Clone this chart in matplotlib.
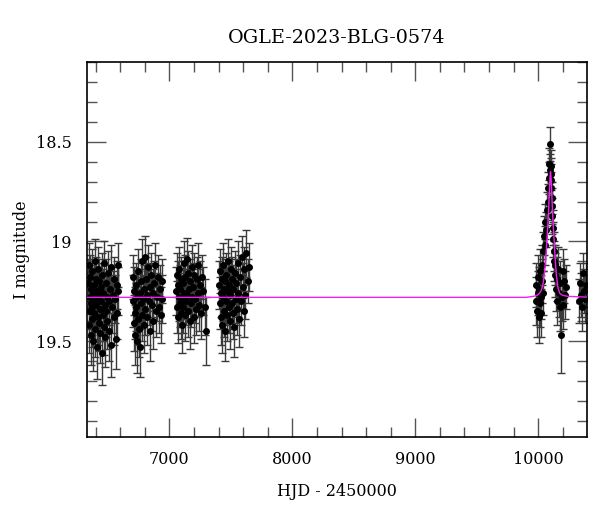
import matplotlib
matplotlib.use("Agg")
import matplotlib.pyplot as plt
from matplotlib.ticker import MultipleLocator

plt.rcParams.update({
    "font.family": "DejaVu Serif",
    "font.size": 11.5,
})

# ── Photometry (HJD - 2450000, I mag, error) ────────────────────────────────
s1_hjd = [6341, 6344, 6347, 6350, 6353, 6356, 6359, 6362, 6365, 6368,
          6371, 6374, 6377, 6380, 6384, 6388, 6391, 6395, 6398, 6402,
          6405, 6409, 6412, 6416, 6420, 6423, 6427, 6431, 6434, 6438,
          6442, 6446, 6449, 6453, 6457, 6461, 6465, 6469, 6473, 6477,
          6481, 6486, 6490, 6495, 6500, 6505, 6510, 6516, 6522, 6528,
          6534, 6540, 6546, 6552, 6558, 6564, 6570, 6576, 6581, 6585]
s1_mag = [19.21, 19.35, 19.12, 19.42, 19.28, 19.18, 19.47, 19.31, 19.24, 19.39,
          19.15, 19.33, 19.26, 19.50, 19.22, 19.36, 19.10, 19.29, 19.44, 19.19,
          19.32, 19.25, 19.53, 19.38, 19.14, 19.27, 19.41, 19.20, 19.34, 19.46,
          19.23, 19.30, 19.56, 19.17, 19.37, 19.26, 19.43, 19.11, 19.32, 19.48,
          19.21, 19.35, 19.28, 19.40, 19.16, 19.30, 19.45, 19.24, 19.52, 19.13,
          19.33, 19.27, 19.38, 19.19, 19.29, 19.49, 19.22, 19.36, 19.12, 19.25]
s1_err = [0.12, 0.13, 0.11, 0.14, 0.12, 0.11, 0.15, 0.13, 0.12, 0.14,
          0.11, 0.13, 0.12, 0.15, 0.12, 0.13, 0.11, 0.12, 0.14, 0.11,
          0.13, 0.12, 0.16, 0.14, 0.11, 0.12, 0.14, 0.11, 0.13, 0.15,
          0.12, 0.12, 0.16, 0.11, 0.13, 0.12, 0.14, 0.11, 0.13, 0.15,
          0.12, 0.13, 0.12, 0.14, 0.11, 0.12, 0.15, 0.12, 0.16, 0.11,
          0.13, 0.12, 0.14, 0.11, 0.12, 0.15, 0.12, 0.13, 0.11, 0.12]

s2_hjd = [6702, 6706, 6710, 6714, 6718, 6722, 6726, 6731, 6735, 6739,
          6744, 6748, 6753, 6757, 6762, 6766, 6771, 6776, 6780, 6785,
          6790, 6795, 6800, 6805, 6810, 6816, 6821, 6827, 6833, 6839,
          6845, 6851, 6857, 6864, 6870, 6877, 6884, 6891, 6898, 6905,
          6912, 6920, 6928, 6936, 6944]
s2_mag = [19.30, 19.18, 19.41, 19.25, 19.36, 19.47, 19.22, 19.33, 19.50, 19.28,
          19.39, 19.15, 19.44, 19.26, 19.53, 19.31, 19.20, 19.37, 19.10, 19.29,
          19.42, 19.24, 19.08, 19.34, 19.19, 19.27, 19.38, 19.13, 19.30, 19.23,
          19.45, 19.17, 19.32, 19.26, 19.40, 19.21, 19.12, 19.35, 19.28, 19.18,
          19.33, 19.24, 19.37, 19.20, 19.29]
s2_err = [0.13, 0.11, 0.14, 0.12, 0.13, 0.15, 0.11, 0.12, 0.16, 0.12,
          0.13, 0.11, 0.14, 0.12, 0.15, 0.13, 0.11, 0.13, 0.11, 0.12,
          0.14, 0.12, 0.11, 0.13, 0.11, 0.12, 0.14, 0.11, 0.12, 0.12,
          0.15, 0.11, 0.13, 0.12, 0.14, 0.11, 0.11, 0.13, 0.12, 0.11,
          0.13, 0.12, 0.14, 0.11, 0.12]

s3_hjd = [7055, 7059, 7063, 7067, 7071, 7075, 7079, 7083, 7088, 7092,
          7096, 7100, 7105, 7109, 7113, 7118, 7122, 7127, 7131, 7136,
          7141, 7146, 7150, 7155, 7160, 7165, 7170, 7176, 7181, 7186,
          7192, 7198, 7204, 7210, 7216, 7222, 7229, 7236, 7243, 7250,
          7258, 7266, 7275, 7288, 7298]
s3_mag = [19.25, 19.17, 19.33, 19.22, 19.38, 19.28, 19.14, 19.31, 19.24, 19.36,
          19.19, 19.29, 19.42, 19.21, 19.33, 19.11, 19.26, 19.37, 19.18, 19.30,
          19.09, 19.27, 19.35, 19.16, 19.24, 19.40, 19.20, 19.31, 19.13, 19.28,
          19.23, 19.38, 19.17, 19.29, 19.34, 19.19, 19.26, 19.12, 19.32, 19.22,
          19.36, 19.18, 19.25, 19.33, 19.45]
s3_err = [0.12, 0.11, 0.13, 0.12, 0.13, 0.12, 0.11, 0.12, 0.12, 0.13,
          0.11, 0.12, 0.14, 0.11, 0.13, 0.11, 0.12, 0.13, 0.11, 0.12,
          0.11, 0.12, 0.13, 0.11, 0.12, 0.14, 0.11, 0.12, 0.11, 0.12,
          0.12, 0.13, 0.11, 0.12, 0.13, 0.11, 0.12, 0.11, 0.13, 0.12,
          0.13, 0.11, 0.12, 0.14, 0.17]

s4_hjd = [7405, 7409, 7413, 7417, 7421, 7425, 7429, 7433, 7438, 7442,
          7446, 7450, 7455, 7459, 7463, 7468, 7472, 7477, 7481, 7486,
          7491, 7496, 7501, 7506, 7511, 7516, 7521, 7527, 7532, 7538,
          7544, 7550, 7556, 7562, 7568, 7575, 7582, 7589, 7596, 7603,
          7610, 7618, 7626, 7636, 7648]
s4_mag = [19.22, 19.31, 19.15, 19.38, 19.26, 19.19, 19.42, 19.28, 19.12, 19.35,
          19.24, 19.45, 19.20, 19.30, 19.17, 19.37, 19.25, 19.10, 19.33, 19.22,
          19.40, 19.27, 19.14, 19.31, 19.19, 19.36, 19.24, 19.43, 19.16, 19.29,
          19.21, 19.34, 19.11, 19.26, 19.39, 19.18, 19.30, 19.08, 19.23, 19.35,
          19.14, 19.27, 19.06, 19.20, 19.13]
s4_err = [0.12, 0.13, 0.11, 0.14, 0.12, 0.11, 0.14, 0.12, 0.11, 0.13,
          0.12, 0.15, 0.11, 0.12, 0.11, 0.13, 0.12, 0.11, 0.13, 0.12,
          0.14, 0.12, 0.11, 0.13, 0.11, 0.13, 0.12, 0.15, 0.11, 0.12,
          0.12, 0.13, 0.11, 0.12, 0.14, 0.11, 0.12, 0.11, 0.12, 0.13,
          0.11, 0.12, 0.12, 0.11, 0.12]

ev_hjd = [9978, 9984, 9990, 9995, 10000, 10005, 10010, 10014, 10018, 10022,
          10026, 10030, 10034, 10038, 10042, 10046, 10052, 10058, 10064, 10070,
          10076, 10082, 10087, 10091, 10094, 10097, 10100, 10102, 10104, 10106,
          10108, 10111, 10114, 10117, 10121, 10125, 10129, 10134, 10139, 10144,
          10150, 10156, 10162, 10168, 10174, 10180, 10186, 10192, 10198, 10205,
          10212, 10220, 10228, 10335, 10342, 10350, 10358, 10366, 10374, 10382,
          10390]
ev_mag = [19.30, 19.22, 19.35, 19.26, 19.18, 19.38, 19.24, 19.31, 19.15, 19.28,
          19.36, 19.20, 19.12, 19.26, 19.05, 18.97, 19.02, 18.90, 18.94, 18.84,
          18.80, 18.73, 18.68, 18.61, 18.64, 18.51, 18.62, 18.66, 18.69, 18.73,
          18.78, 18.82, 18.87, 18.93, 18.99, 19.05, 19.10, 19.17, 19.12, 19.24,
          19.19, 19.30, 19.14, 19.26, 19.33, 19.21, 19.47, 19.28, 19.15, 19.32,
          19.20, 19.27, 19.23, 19.30, 19.21, 19.27, 19.33, 19.16, 19.25, 19.29,
          19.22]
ev_err = [0.12, 0.11, 0.13, 0.11, 0.11, 0.13, 0.11, 0.12, 0.11, 0.11,
          0.12, 0.11, 0.10, 0.11, 0.10, 0.10, 0.10, 0.09, 0.09, 0.09,
          0.09, 0.08, 0.08, 0.08, 0.08, 0.085, 0.08, 0.08, 0.08, 0.08,
          0.08, 0.09, 0.09, 0.09, 0.09, 0.10, 0.10, 0.11, 0.10, 0.11,
          0.11, 0.12, 0.11, 0.12, 0.12, 0.11, 0.19, 0.12, 0.11, 0.12,
          0.11, 0.12, 0.11, 0.11, 0.10, 0.11, 0.12, 0.10, 0.11, 0.12,
          0.11]

# ── Model curve ──────────────────────────────────────────────────────────────
model_hjd = [6300, 9900, 9960, 9990, 10010, 10025, 10040, 10052, 10062, 10070,
             10077, 10083, 10088, 10092, 10095, 10098, 10100, 10102, 10105, 10108,
             10112, 10117, 10123, 10130, 10138, 10148, 10160, 10175, 10200, 10240,
             10450]
model_mag = [19.28, 19.28, 19.275, 19.27, 19.26, 19.245, 19.21, 19.15, 19.08, 19.00,
             18.93, 18.86, 18.79, 18.73, 18.69, 18.66, 18.65, 18.66, 18.69, 18.73,
             18.79, 18.86, 18.93, 19.00, 19.09, 19.17, 19.23, 19.26, 19.27, 19.275,
             19.28]

fig = plt.figure(figsize=(6.0, 5.12), dpi=100)
ax = fig.add_axes([0.145, 0.1465, 0.833, 0.7325])

seasons = [(s1_hjd, s1_mag, s1_err), (s2_hjd, s2_mag, s2_err),
           (s3_hjd, s3_mag, s3_err), (s4_hjd, s4_mag, s4_err),
           (ev_hjd, ev_mag, ev_err)]
for hjd, mag, err in seasons:
    ax.errorbar(hjd, mag, yerr=err, fmt="o", color="black", markersize=4,
                ecolor="#3a3a3a", elinewidth=1.0, capsize=3, capthick=1.0,
                zorder=2)

ax.plot(model_hjd, model_mag, color="#f020f0", linewidth=1.0, zorder=3)

ax.set_xlim(6330, 10395)
ax.set_ylim(19.98, 18.1)
ax.xaxis.set_major_locator(MultipleLocator(1000))
ax.xaxis.set_minor_locator(MultipleLocator(200))
ax.yaxis.set_major_locator(MultipleLocator(0.5))
ax.yaxis.set_minor_locator(MultipleLocator(0.1))
ax.yaxis.set_major_formatter(plt.FuncFormatter(lambda v, p: f"{v:g}"))
ax.tick_params(which="both", direction="in", top=True, right=True,
               color="#555555", width=1.0)
ax.tick_params(which="major", length=14, pad=10)
ax.tick_params(axis="y", which="major", pad=11)
ax.tick_params(which="minor", length=7)
for sp in ax.spines.values():
    sp.set_linewidth(1.2)

ax.set_xlabel("HJD - 2450000", labelpad=11)
ax.set_ylabel("I magnitude", labelpad=4)
ax.set_title("OGLE-2023-BLG-0574", pad=14)

fig.savefig("out.png", dpi=100)
